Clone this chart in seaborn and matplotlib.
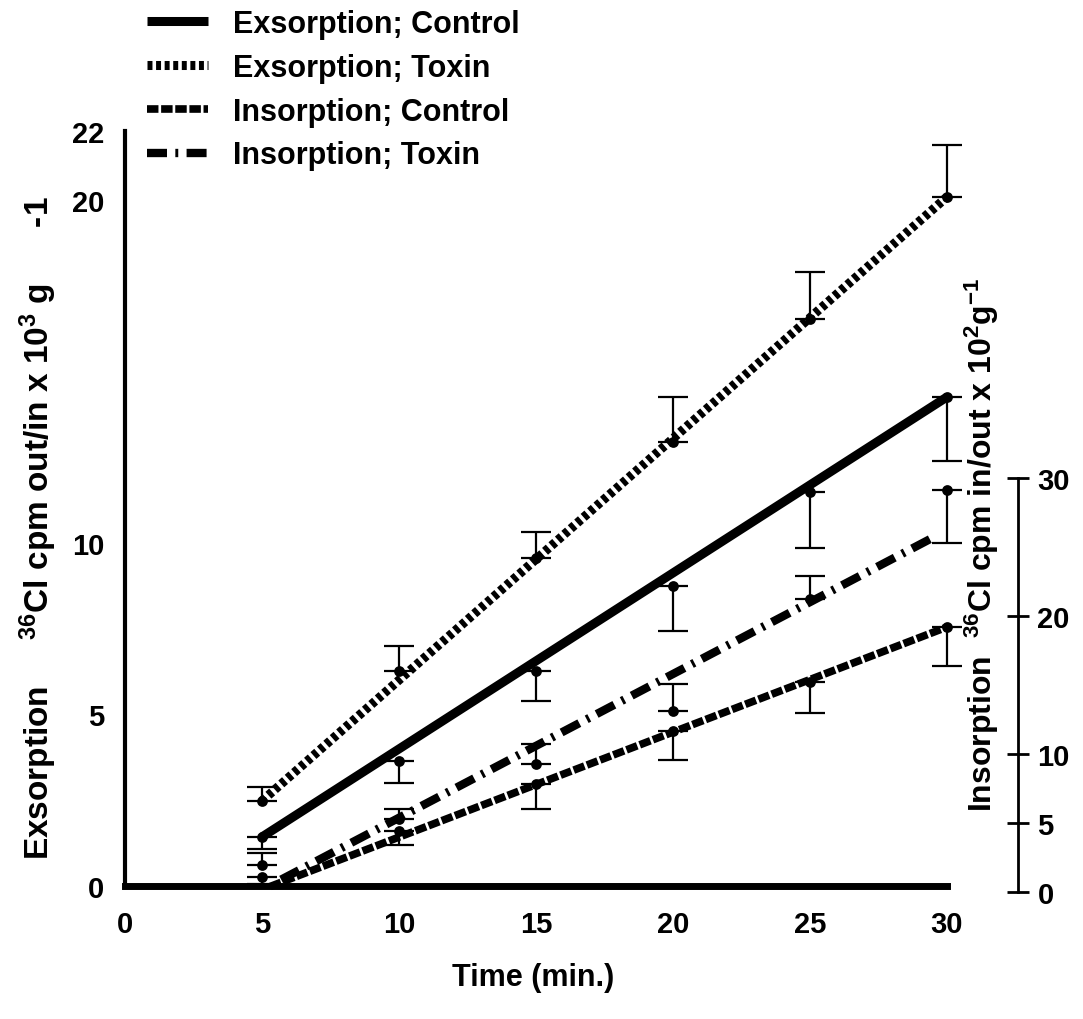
import numpy as np
import matplotlib
matplotlib.use("Agg")
import matplotlib.pyplot as plt
from matplotlib.lines import Line2D
import seaborn as sns

# ---- data -------------------------------------------------------------
time_min = [5, 10, 15, 20, 25, 30]

# Exsorption, 36Cl cpm out/in x 10^3 g-1 (left axis)
exs_control_mean = [1.43, 3.64, 6.26, 8.74, 11.48, 14.25]
exs_control_err = [0.35, 0.64, 0.87, 1.31, 1.63, 1.86]
exs_toxin_mean = [2.48, 6.26, 9.56, 12.94, 16.52, 20.08]
exs_toxin_err = [0.41, 0.73, 0.76, 1.31, 1.37, 1.52]

# Insorption, 36Cl cpm in/out x 10^2 g-1 (right axis)
ins_control_mean = [1.1, 4.4, 7.8, 11.7, 15.2, 19.2]
ins_control_err = [0.5, 1.0, 1.8, 2.1, 2.2, 2.8]
ins_toxin_mean = [1.96, 5.29, 9.3, 13.1, 21.2, 29.1]
ins_toxin_err = [0.9, 0.7, 1.4, 2.0, 1.7, 3.8]
ins_toxin_err_up = [True, True, True, True, True, False]

# fitted regression lines (time, value)
exs_control_fit_t = [5, 30]
exs_control_fit = [1.43, 14.25]
exs_toxin_fit_t = [5, 30]
exs_toxin_fit = [2.48, 20.08]
ins_control_fit_t = [5.3, 30]
ins_control_fit = [0.4, 19.2]
ins_toxin_fit_t = [5.7, 29.6]
ins_toxin_fit = [0.9, 25.8]

x_ticks = [0, 5, 10, 15, 20, 25, 30]
left_ticks = [0, 5, 10, 20, 22]
right_ticks = [0, 5, 10, 20, 30]

legend_labels = ["Exsorption; Control", "Exsorption; Toxin",
                 "Insorption; Control", "Insorption; Toxin"]

# ---- style ------------------------------------------------------------
sns.set_theme(style="white")
plt.rcParams["font.family"] = ["Liberation Sans", "DejaVu Sans"]
plt.rcParams["font.weight"] = "bold"
plt.rcParams["text.color"] = "black"
plt.rcParams["axes.labelcolor"] = "black"
plt.rcParams["xtick.color"] = "black"
plt.rcParams["ytick.color"] = "black"
plt.rcParams["mathtext.fontset"] = "custom"
plt.rcParams["mathtext.rm"] = "Liberation Sans:bold"
plt.rcParams["mathtext.bf"] = "Liberation Sans:bold"
plt.rcParams["mathtext.default"] = "bf"

W, H = 1083, 1020
fig = plt.figure(figsize=(W / 100, H / 100), dpi=100)

# pixel geometry helpers
x0_px, x30_px = 125, 947
px_per_min = (x30_px - x0_px) / 30
x_max = 31
ax_w = px_per_min * x_max

ax_bottom_px, ax_top_px = 887, 132     # left axis 0 .. 22
ax = fig.add_axes([x0_px / W, 1 - ax_bottom_px / H, ax_w / W,
                   (ax_bottom_px - ax_top_px) / H])
ax.set_xlim(0, x_max)
ax.set_ylim(0, 22)

r_bottom_px, r_top_px = 893, 479       # right axis 0 .. 30
ax2 = fig.add_axes([x0_px / W, 1 - r_bottom_px / H, ax_w / W,
                    (r_bottom_px - r_top_px) / H])
ax2.set_xlim(0, x_max)
ax2.set_ylim(0, 30)
ax2.patch.set_visible(False)

styles = {
    "exs_control": dict(linestyle="-", linewidth=6.5, solid_capstyle="butt"),
    "exs_toxin": dict(linestyle=(0, (0.55, 0.4)), linewidth=6.5,
                      dash_capstyle="butt"),
    "ins_control": dict(linestyle=(0, (1.5, 0.35)), linewidth=5.5,
                        dash_capstyle="butt"),
    "ins_toxin": dict(linestyle=(0, (2.4, 1.0, 0.35, 1.0)), linewidth=6,
                      dash_capstyle="butt"),
}

# fitted lines
sns.lineplot(x=exs_control_fit_t, y=exs_control_fit, ax=ax, color="black",
             **styles["exs_control"])
sns.lineplot(x=exs_toxin_fit_t, y=exs_toxin_fit, ax=ax, color="black",
             **styles["exs_toxin"])
sns.lineplot(x=ins_control_fit_t, y=ins_control_fit, ax=ax2, color="black",
             **styles["ins_control"])
sns.lineplot(x=ins_toxin_fit_t, y=ins_toxin_fit, ax=ax2, color="black",
             **styles["ins_toxin"])

# error bars (one-sided) and mean points
eb = dict(fmt="none", ecolor="black", elinewidth=1.6, capsize=11,
          capthick=1.6, clip_on=False)
zeros = [0] * len(time_min)
ax.errorbar(time_min, exs_control_mean, yerr=[exs_control_err, zeros], **eb)
ax.errorbar(time_min, exs_toxin_mean, yerr=[zeros, exs_toxin_err], **eb)
ax2.errorbar(time_min, ins_control_mean, yerr=[ins_control_err, zeros], **eb)
up = [e if u else 0 for e, u in zip(ins_toxin_err, ins_toxin_err_up)]
dn = [0 if u else e for e, u in zip(ins_toxin_err, ins_toxin_err_up)]
ax2.errorbar(time_min, ins_toxin_mean, yerr=[dn, up], **eb)

for a, ys in [(ax, exs_control_mean), (ax, exs_toxin_mean),
              (ax2, ins_control_mean), (ax2, ins_toxin_mean)]:
    sns.scatterplot(x=time_min, y=ys, ax=a, color="black", s=60,
                    edgecolor="black", linewidth=0, clip_on=False, zorder=5)

# ---- axes cosmetics ---------------------------------------------------
for s in ["top", "right"]:
    ax.spines[s].set_visible(False)
ax.spines["left"].set_linewidth(3)
ax.spines["bottom"].set_linewidth(5)
ax.spines["bottom"].set_bounds(0, 30)
ax.spines["left"].set_color("black")
ax.spines["bottom"].set_color("black")
ax.set_xticks(x_ticks)
ax.set_xticklabels([str(t) for t in x_ticks])
ax.set_yticks(left_ticks)
ax.set_yticklabels([str(t) for t in left_ticks])
ax.tick_params(axis="both", direction="out", length=9, width=2,
               color="black", labelsize=21, labelcolor="black")
ax.tick_params(axis="x", pad=8)
ax.tick_params(axis="y", pad=6)
ax.set_xlabel("")
ax.set_ylabel("")

for s in ["top", "left", "bottom"]:
    ax2.spines[s].set_visible(False)
ax2.spines["right"].set_visible(True)
ax2.spines["right"].set_color("black")
ax2.spines["right"].set_linewidth(2)
ax2.spines["right"].set_position(("axes", (1018 - x0_px) / ax_w))
ax2.spines["right"].set_bounds(0, 30)
ax2.set_xticks([])
ax2.yaxis.set_ticks_position("right")
ax2.set_yticks(right_ticks)
ax2.set_yticklabels([str(t) for t in right_ticks])
ax2.tick_params(axis="y", direction="inout", length=16, width=2,
                color="black", labelsize=21, labelcolor="black", pad=6)
ax2.set_xlabel("")
ax2.set_ylabel("")

# axis titles
fig.text(533 / W, 1 - 978 / H, "Time (min.)", ha="center", va="center",
         fontsize=22, fontweight="bold")
fig.text(38 / W, 1 - 528 / H,
         r"Exsorption     $^{36}$Cl cpm out/in x 10$^{3}$ g      -1",
         rotation=90, ha="center", va="center", fontsize=24,
         fontweight="bold")
fig.text(982 / W, 1 - 545 / H,
         r"Insorption  $^{36}$Cl cpm in/out x 10$^{2}$g$^{-1}$",
         rotation=90, ha="center", va="center", fontsize=23,
         fontweight="bold")

# legend
handles = [Line2D([], [], color="black", **styles[k])
           for k in ["exs_control", "exs_toxin", "ins_control", "ins_toxin"]]
fig.legend(handles, legend_labels, loc="upper left",
           bbox_to_anchor=(147 / W, 1 - 10 / H), frameon=False,
           fontsize=22, handlelength=2.0, handletextpad=0.8,
           labelspacing=0.45, borderpad=0, borderaxespad=0)

fig.savefig("out.png", dpi=100, facecolor="white")
